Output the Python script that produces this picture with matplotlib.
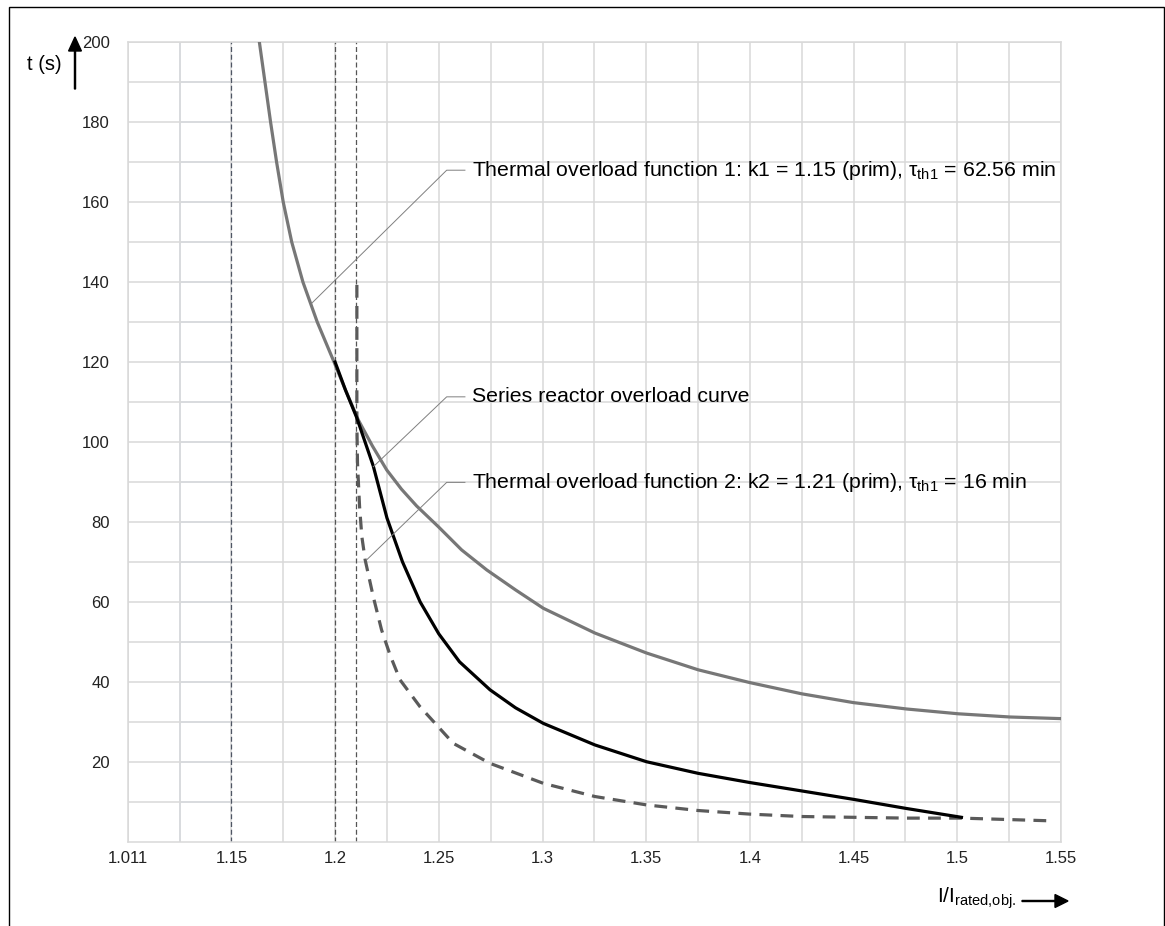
import matplotlib
matplotlib.use("Agg")
import matplotlib.pyplot as plt
from matplotlib.patches import Rectangle, FancyArrow

plt.rcParams['font.family'] = ['Liberation Sans', 'DejaVu Sans']
plt.rcParams['mathtext.fontset'] = 'custom'
plt.rcParams['mathtext.rm'] = 'Liberation Sans'
plt.rcParams['mathtext.it'] = 'Liberation Sans'

# thermal overload function 1 (k1 = 1.15, tau = 62.56 min)
therm1_x = [1.1635, 1.1662, 1.1689, 1.1718, 1.1750, 1.1791, 1.1845, 1.1914, 1.1995,
            1.2050, 1.2112, 1.2180, 1.2249, 1.2320, 1.2393, 1.2498, 1.2610, 1.2731,
            1.2870, 1.3004, 1.3253, 1.3502, 1.3751, 1.4000, 1.4250, 1.4499, 1.4756,
            1.5005, 1.5254, 1.5495]
therm1_t = [200, 190, 180, 170, 160, 150, 140, 130, 120,
            113, 105.5, 99, 93, 88.2, 84, 78.8, 73, 68,
            63, 58.4, 52.2, 47.2, 43, 39.8, 37, 34.8, 33.2,
            32, 31.2, 30.8]

# series reactor overload curve
reactor_x = [1.2000, 1.2050, 1.2105, 1.2184, 1.2250, 1.2325, 1.2410, 1.2500, 1.2600,
             1.2747, 1.2870, 1.3004, 1.3253, 1.3502, 1.3751, 1.4000, 1.4250, 1.4499,
             1.4756, 1.5020]
reactor_t = [120, 113, 106, 94, 81, 70, 60, 52, 45,
             38, 33.5, 29.6, 24.2, 20, 17.1, 14.8, 12.7, 10.6,
             8.3, 6.1]

# thermal overload function 2 (k2 = 1.21, tau = 16 min)
therm2_x = [1.2105, 1.2105, 1.2105, 1.2108, 1.2118, 1.2129, 1.2145, 1.2184, 1.2224,
            1.2265, 1.2313, 1.2409, 1.2570, 1.2747, 1.3004, 1.3253, 1.3502, 1.3751,
            1.4000, 1.4250, 1.4756, 1.5020, 1.5463]
therm2_t = [139.3, 120, 104.7, 94.7, 83.8, 76.3, 70.5, 61.3, 53,
            46.7, 40.5, 33.8, 24.6, 19.6, 14.6, 11.3, 9.2, 7.8,
            6.9, 6.3, 5.9, 5.9, 5.2]

# pickup levels
pickups = [1.15, 1.20, 1.21]

x_ticks = [1.10, 1.15, 1.20, 1.25, 1.30, 1.35, 1.40, 1.45, 1.50, 1.55]
x_labels = ['1.011', '1.15', '1.2', '1.25', '1.3', '1.35', '1.4', '1.45', '1.5', '1.55']
y_ticks = [20, 40, 60, 80, 100, 120, 140, 160, 180, 200]

# label, point on curve, elbow of the leader line
notes = [
    (r'Thermal overload function 1: k1 = 1.15 (prim), $\tau_{\mathrm{th1}}$ = 62.56 min',
     (1.1887, 134.7), (1.2538, 168)),
    ('Series reactor overload curve', (1.2184, 93.8), (1.2538, 111.3)),
    (r'Thermal overload function 2: k2 = 1.21 (prim), $\tau_{\mathrm{th1}}$ = 16 min',
     (1.2152, 70.5), (1.2538, 89.9)),
]

W, H = 1165, 926
fig = plt.figure(figsize=(W / 100, H / 100), dpi=100)
fig.patch.set_facecolor('white')
fig.patches.append(Rectangle((8.5 / W, -0.05), (1163.5 - 8.5) / W, 1.05 - 7.3 / H,
                             transform=fig.transFigure, fill=False,
                             edgecolor='black', lw=1.0))

ax = fig.add_axes([127.7 / W, 1 - 841.7 / H, (1061 - 127.7) / W, (841.7 - 42.3) / H])
ax.set_xlim(1.10, 1.55)
ax.set_ylim(0, 200)

grid_c = '#d9d9d9'
ax.set_xticks(x_ticks)
ax.set_xticklabels(x_labels)
ax.set_xticks([1.125 + 0.05 * i for i in range(9)], minor=True)
ax.set_yticks(y_ticks)
ax.set_yticks(list(range(10, 200, 20)), minor=True)
ax.grid(True, which='both', color=grid_c, lw=1.1, zorder=0)
ax.tick_params(which='both', length=0)
ax.tick_params(axis='x', pad=7, labelsize=12, labelcolor='#222222')
ax.tick_params(axis='y', pad=13, labelsize=12, labelcolor='#222222')
for s in ax.spines.values():
    s.set_color(grid_c)
    s.set_linewidth(1.1)

# bluish grid in first band
blu = '#d3dcec'
ax.vlines(1.125, 0, 200, color=blu, lw=1.1, zorder=0.5)
ax.hlines(list(range(10, 200, 10)), 1.125, 1.15, color=blu, lw=1.1, zorder=0.5)

for i, p in enumerate(pickups):
    c = '#4f5664' if i == 0 else '#555555'
    ax.axvline(p, color=c, lw=0.9, ls=(0, (4, 2.2)), zorder=2)

ax.plot(therm1_x, therm1_t, color='#777777', lw=2.3, zorder=3, solid_joinstyle='round')
ax.plot(therm2_x, therm2_t, color='#5a5a5a', lw=2.3, ls=(0, (4, 2.6)), zorder=3)
ax.plot(reactor_x, reactor_t, color='black', lw=2.3, zorder=4, solid_joinstyle='round')

for label, pt, elbow in notes:
    end_x = elbow[0] + 0.0088
    ax.plot([pt[0], elbow[0], end_x], [pt[1], elbow[1], elbow[1]],
            color='#7f7f7f', lw=0.7, zorder=5)
    ax.text(end_x + 0.0032, elbow[1], label, fontsize=15.3, color='black',
            va='center', ha='left', zorder=6)

# axis titles with arrows
fig.text(27 / W, 1 - 64 / H, 't (s)', fontsize=14.5, va='center', ha='left')
fig.add_artist(FancyArrow(75 / W, 1 - 89 / H, 0, 52 / H, width=0.0009,
                          head_width=0.011, head_length=14 / H,
                          length_includes_head=True, color='black',
                          transform=fig.transFigure))
fig.text(937 / W, 1 - 898 / H, r'I/I$_{\mathrm{rated{,}obj.}}$', fontsize=15,
         va='center', ha='left')
fig.add_artist(FancyArrow(1022 / W, 1 - 901 / H, 46 / W, 0, width=0.0011,
                          head_width=0.014, head_length=13 / W,
                          length_includes_head=True, color='black',
                          transform=fig.transFigure))

fig.savefig('out.png', dpi=100, facecolor='white')
